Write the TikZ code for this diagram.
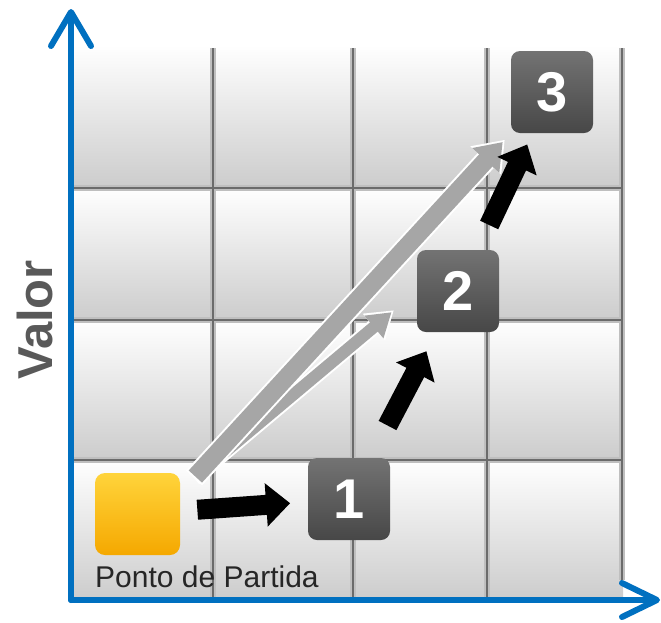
\documentclass[tikz,border=0pt]{standalone}
\usepackage{fontspec}
\setmainfont{Liberation Sans}
\usetikzlibrary{arrows.meta}
\definecolor{axisblue}{HTML}{0070C0}
\definecolor{numtop}{HTML}{737373}
\definecolor{numbot}{HTML}{474747}
\definecolor{yeltop}{HTML}{FFD43B}
\definecolor{yelbot}{HTML}{F5A800}
\definecolor{arrowgray}{HTML}{A6A6A6}
\definecolor{valorgray}{HTML}{595959}
\definecolor{labeltext}{HTML}{262626}
\begin{document}
\begin{tikzpicture}[x=1pt,y=-1pt,
  cell/.style={top color=white, bottom color=black!20},
  gridhalo/.style={draw=black!25, line width=6pt},
  gridline/.style={draw=black!58, line width=2.2pt},
  axis/.style={draw=axisblue, line width=6pt, line cap=round, line join=round},
  numbox/.style={minimum width=82pt, minimum height=82pt, rounded corners=9pt,
    top color=numtop, bottom color=numbot, text=white, inner sep=0pt,
    font=\fontsize{56}{56}\selectfont\bfseries},
  startbox/.style={minimum width=85pt, minimum height=82pt, rounded corners=10pt,
    top color=yeltop, bottom color=yelbot, inner sep=0pt},
  blackarrow/.style={draw=black, line width=20pt, -{Triangle[width=42pt,length=24pt]}},
  bigwhite/.style={draw=white, line width=22pt, -{Triangle[width=40pt,length=28pt]}},
  biggray/.style={draw=arrowgray, line width=18pt, -{Triangle[width=35pt,length=25pt]}},
  smallwhite/.style={draw=white, line width=16pt, -{Triangle[width=33pt,length=26pt]}},
  smallgray/.style={draw=arrowgray, line width=12pt, -{Triangle[width=28pt,length=23pt]}},
]
\useasboundingbox (0,0) rectangle (661,622);
\fill[white] (0,0) rectangle (661,622);
% cells
\foreach \xa/\xb in {71/213,213/353,353/487,487/623}
  \foreach \ya/\yb in {45/188,188/320,320/460,460/600}
    \fill[cell] (\xa,\ya) rectangle (\xb,\yb);
% grid lines
\foreach \gx in {213,353,487}
  \draw[gridhalo] (\gx,48) -- (\gx,600);
\foreach \gy in {188,320,460}
  \draw[gridhalo] (71,\gy) -- (623,\gy);
\draw[gridhalo] (622,48) -- (622,580);
\foreach \gx in {213,353,487}
  \draw[gridline] (\gx,48) -- (\gx,600);
\foreach \gy in {188,320,460}
  \draw[gridline] (71,\gy) -- (623,\gy);
\draw[gridline] (622,48) -- (622,580);
% axes
\draw[axis] (71,600) -- (71,14);
\draw[axis] (51,46) -- (71,12) -- (91,46);
\draw[axis] (71,600) -- (655,600);
\draw[axis] (622,583) -- (657,600) -- (622,617);
% label
\node[rotate=90, text=valorgray, font=\fontsize{49}{49}\selectfont\bfseries] (valor) at (35,320) {Valor};
% nodes
\node[startbox] (start) at (137.5,514) {};
\node[anchor=base west, text=labeltext, font=\fontsize{30}{30}\selectfont, inner sep=0pt] (lbl) at (95,587) {Ponto de Partida};
\node[numbox] (n1) at (349,499) {1};
\node[numbox] (n2) at (458,291) {2};
\node[numbox] (n3) at (552,92) {3};
\coordinate (gtail) at (194,478);
% gray arrows
\draw[smallwhite, shorten >=30pt] (gtail) -- (n2.west);
\draw[smallgray, shorten >=33pt, shorten <=2pt] (gtail) -- (n2.west);
\draw[bigwhite, shorten >=9pt] (gtail) -- (n3.south west);
\draw[biggray, shorten >=12pt, shorten <=2pt] (gtail) -- (n3.south west);
% black arrows
\draw[blackarrow, shorten <=60pt, shorten >=59pt] (start.center) -- (n1.center);
\draw[blackarrow, shorten <=83pt, shorten >=68pt] (n1.center) -- (n2.center);
\draw[blackarrow, shorten <=73pt, shorten >=58pt] (n2.center) -- (n3.center);
\end{tikzpicture}
\end{document}
